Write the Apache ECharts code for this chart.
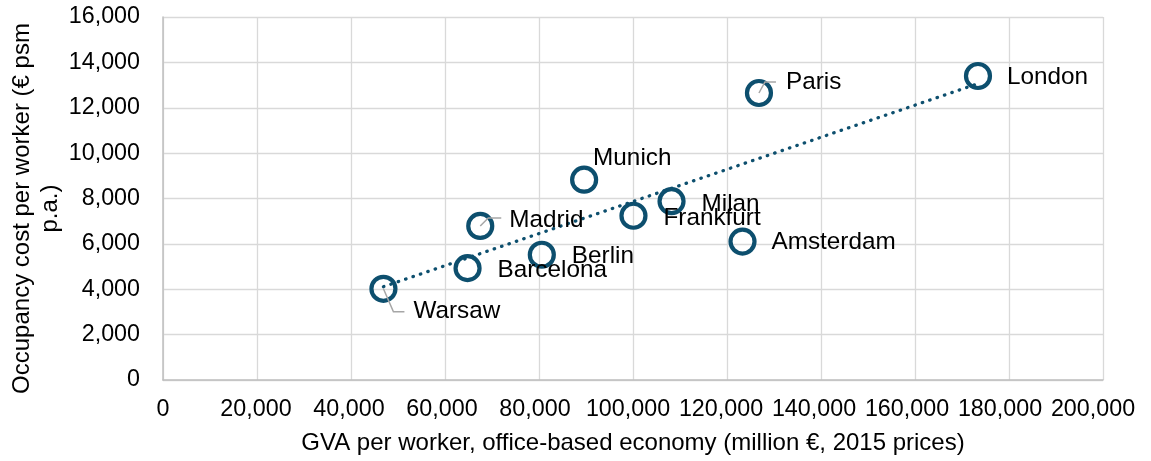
<!DOCTYPE html>
<html>
<head>
<meta charset="utf-8">
<title>GVA per worker vs occupancy cost per worker</title>
<script src="https://cdn.jsdelivr.net/npm/echarts@6/dist/echarts.min.js"></script>
<style>
  html, body { margin: 0; padding: 0; background: #ffffff; }
  #chart { width: 1151px; height: 461px; }
</style>
</head>
<body>
<div id="chart"></div>
<script>
// City data: GVA per worker (office-based economy) and occupancy cost per worker
const cities = ['London', 'Paris', 'Amsterdam', 'Milan', 'Frankfurt', 'Munich', 'Madrid', 'Berlin', 'Barcelona', 'Warsaw'];
const gvaPerWorker = [173400, 126800, 123300, 108200, 100100, 89600, 67500, 80600, 64800, 46900];
const costPerWorker = [13400, 12650, 6100, 7880, 7240, 8830, 6790, 5520, 4930, 4020];

// Axis ranges
const xAxisRange = { min: 0, max: 200000, interval: 20000 };
const yAxisRange = { min: 0, max: 16000, interval: 2000 };

// Label placement (pixel offset of the label's left/middle point from the marker centre)
const labelOffsets = {
  London: [29, 1], Paris: [27, -11], Amsterdam: [29, 1], Milan: [30, 3], Frankfurt: [30, 3],
  Munich: [9, -21], Madrid: [29, -6], Berlin: [30, 2], Barcelona: [30, 2], Warsaw: [30, 23]
};
// Leader lines for labels set away from their markers (pixel offsets from the marker centre)
const leaderLines = {
  Paris: [[0, 0], [6, -11], [17, -11]],
  Madrid: [[0, 0], [8, -8], [21, -8]],
  Warsaw: [[0, 0], [10, 23], [21, 23]]
};

const FONT = 'Arial, "Liberation Sans", sans-serif';
const MARK = '#0d4f6e';
const fmt = v => Math.round(v).toLocaleString('en-US');

// X tick labels drift slightly left toward the right edge; each gets a small right padding
const xLabelRich = {};
for (let k = 0; k <= 10; k++) {
  xLabelRich['t' + k] = { fontFamily: FONT, fontSize: 23.3, color: '#000', padding: [0, 2 * k, 0, 0] };
}

// Least-squares linear trend through all cities
const n = cities.length;
const mx = gvaPerWorker.reduce((s, v) => s + v, 0) / n;
const my = costPerWorker.reduce((s, v) => s + v, 0) / n;
let sxy = 0, sxx = 0;
for (let i = 0; i < n; i++) {
  sxy += (gvaPerWorker[i] - mx) * (costPerWorker[i] - my);
  sxx += (gvaPerWorker[i] - mx) ** 2;
}
const slope = sxy / sxx;
const intercept = my - slope * mx;
const xLo = Math.min(...gvaPerWorker), xHi = Math.max(...gvaPerWorker);
const trendData = [[xLo, intercept + slope * xLo], [xHi, intercept + slope * xHi]];

const scatterData = cities.map((c, i) => ({
  name: c,
  value: [gvaPerWorker[i], costPerWorker[i]],
  label: { offset: labelOffsets[c] }
}));

const leaderData = cities
  .map((c, i) => ({ name: c, value: [gvaPerWorker[i], costPerWorker[i]] }))
  .filter(d => leaderLines[d.name]);

const chart = echarts.init(document.getElementById('chart'), null, { renderer: 'canvas' });

chart.setOption({
  animation: false,
  backgroundColor: '#ffffff',
  grid: { left: 163, right: 48, top: 17, bottom: 81, containLabel: false, outerBoundsMode: 'none' },
  xAxis: {
    type: 'value',
    min: xAxisRange.min, max: xAxisRange.max, interval: xAxisRange.interval,
    name: 'GVA per worker, office-based economy (million €, 2015 prices)',
    nameLocation: 'middle',
    nameGap: 51,
    nameMoveOverlap: false,
    nameTextStyle: { fontFamily: FONT, fontSize: 24, color: '#000' },
    axisLine: { show: true, lineStyle: { color: '#bfbfbf', width: 1.5 } },
    axisTick: { show: false },
    axisLabel: {
      fontFamily: FONT, fontSize: 23.3, color: '#000', margin: 18,
      formatter: v => '{t' + Math.round(v / xAxisRange.interval) + '|' + fmt(v) + '}',
      rich: xLabelRich
    },
    splitLine: { show: true, lineStyle: { color: '#d9d9d9', width: 1.3 } }
  },
  yAxis: {
    type: 'value',
    min: yAxisRange.min, max: yAxisRange.max, interval: yAxisRange.interval,
    name: 'Occupancy cost per worker (€ psm\np.a.)',
    nameLocation: 'middle',
    nameRotate: 90,
    nameGap: 99,
    nameMoveOverlap: false,
    nameTextStyle: { fontFamily: FONT, fontSize: 24, color: '#000', lineHeight: 28, align: 'center', padding: [0, 20, 0, 0] },
    axisLine: { show: true, lineStyle: { color: '#bfbfbf', width: 1.5 } },
    axisTick: { show: false },
    axisLabel: { fontFamily: FONT, fontSize: 23.3, color: '#000', margin: 23, formatter: fmt },
    splitLine: { show: true, lineStyle: { color: '#d9d9d9', width: 1.3 } }
  },
  series: [
    {
      name: 'Trend',
      type: 'line',
      data: trendData,
      showSymbol: false,
      silent: true,
      z: 3,
      lineStyle: { color: MARK, width: 3.3, type: [0.5, 7.3], cap: 'round' }
    },
    {
      name: 'Cities',
      type: 'scatter',
      data: scatterData,
      symbol: 'circle',
      symbolSize: 24,
      z: 4,
      itemStyle: { color: 'rgba(0,0,0,0)', borderColor: MARK, borderWidth: 4.2, opacity: 1 },
      label: {
        show: true,
        position: 'inside',
        align: 'left',
        verticalAlign: 'middle',
        formatter: '{b}',
        fontFamily: FONT,
        fontSize: 24.3,
        color: '#000'
      }
    },
    {
      name: 'Leaders',
      type: 'custom',
      data: leaderData,
      z: 5,
      silent: true,
      renderItem: (params, api) => {
        const p = api.coord([api.value(0), api.value(1)]);
        const name = leaderData[params.dataIndex].name;
        const pts = leaderLines[name].map(o => [p[0] + o[0], p[1] + o[1]]);
        return {
          type: 'polyline',
          shape: { points: pts },
          style: { stroke: '#a6a6a6', lineWidth: 1.5, fill: null }
        };
      }
    }
  ]
});
</script>
</body>
</html>
